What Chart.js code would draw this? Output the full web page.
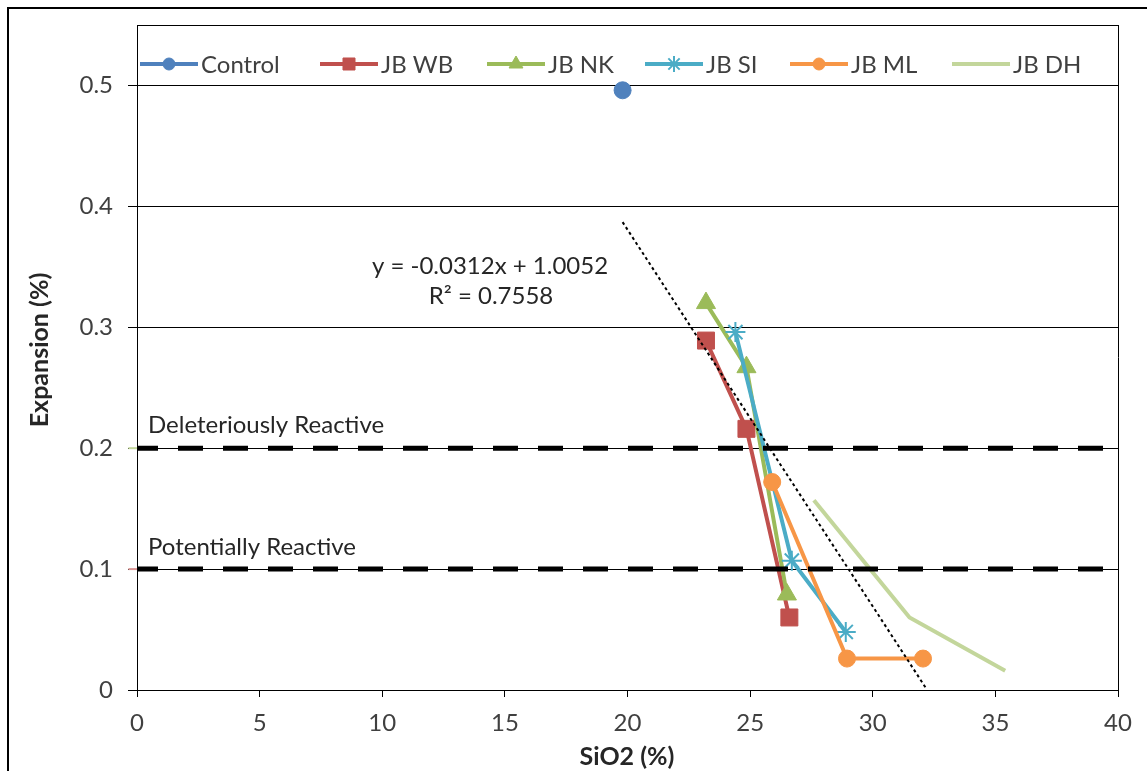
<!DOCTYPE html>
<html>
<head>
<meta charset="utf-8">
<title>Expansion vs SiO2</title>
<script src="https://cdn.jsdelivr.net/npm/chart.js@4.4.1/dist/chart.umd.min.js"></script>
<style>
  html, body { margin: 0; padding: 0; background: #fff; overflow: hidden; }
  #wrap { position: relative; width: 1147px; height: 771px; }
</style>
</head>
<body>
<div id="wrap"><canvas id="chart" width="1147" height="771"></canvas></div>
<script>
// Data (SiO2 % vs expansion %)
const controlX = [19.8];
const controlY = [0.496];
const wbX = [23.2, 24.85, 26.6];
const wbY = [0.289, 0.216, 0.060];
const nkX = [23.2, 24.85, 26.5];
const nkY = [0.320, 0.267, 0.079];
const siX = [24.4, 26.7, 28.9];
const siY = [0.296, 0.107, 0.048];
const mlX = [25.9, 28.95, 32.05];
const mlY = [0.172, 0.026, 0.026];
const dhX = [27.6, 31.5, 35.4];
const dhY = [0.157, 0.060, 0.016];

// linear trendline y = -0.0312x + 1.0052, ends
const trendX = [19.8, 32.2];
const trendY = [0.387, 0.0006];

// reactivity limits
const limitX = [0, 40];
const deleteriousY = [0.2, 0.2];
const potentialY = [0.1, 0.1];
// coloured stubs that stick out past the plot edges
const edgeX = [-0.35, 0, 20, 40, 40.3];
const deleteriousEdgeY = [0.2, 0.2, null, 0.2, 0.2];
const potentialEdgeY = [0.1, 0.1, null, 0.1, 0.1];

const seriesNames = ['Control', 'JB WB', 'JB NK', 'JB SI', 'JB ML', 'JB DH'];
const xMin = 0, xMax = 40, xStep = 5;
const yMin = 0, yMax = 0.55, yStep = 0.1, yLastLabel = 0.5;

const FONT = 'Lato, "Open Sans", sans-serif';
const TEXT = '#404040';

function pts(xs, ys) {
    return xs.map((x, i) => ({ x: x, y: ys[i] }));
}

function series(label, xs, ys, color, style, radius, order) {
    return {
        label: label,
        data: pts(xs, ys),
        showLine: true,
        borderColor: color,
        backgroundColor: color,
        borderWidth: 4,
        pointStyle: style,
        pointRadius: style ? radius : 0,
        pointHoverRadius: style ? radius : 0,
        pointBorderWidth: style === 'star' ? 2 : 1,
        pointBorderColor: color,
        pointBackgroundColor: color,
        order: order
    };
}

const styles = [
    { color: '#4f81bd', style: 'circle', r: 8.5, lr: 6 },
    { color: '#c0504d', style: 'rect', r: 12, lr: 8.5 },
    { color: '#9bbb59', style: 'triangle', r: 11, lr: 8 },
    { color: '#4bacc6', style: 'star', r: 10, lr: 8 },
    { color: '#f79646', style: 'circle', r: 8.5, lr: 6 },
    { color: '#c3d69b', style: false, r: 0, lr: 0 }
];

const datasets = [
    series(seriesNames[0], controlX, controlY, styles[0].color, styles[0].style, styles[0].r, 7),
    series(seriesNames[1], wbX, wbY, styles[1].color, styles[1].style, styles[1].r, 6),
    series(seriesNames[2], nkX, nkY, styles[2].color, styles[2].style, styles[2].r, 5),
    series(seriesNames[3], siX, siY, styles[3].color, styles[3].style, styles[3].r, 4),
    series(seriesNames[4], mlX, mlY, styles[4].color, styles[4].style, styles[4].r, 3),
    series(seriesNames[5], dhX, dhY, styles[5].color, styles[5].style, styles[5].r, 2),
    {
        label: 'trend',
        data: pts(trendX, trendY),
        showLine: true,
        borderColor: '#000',
        borderWidth: 2,
        borderDash: [3, 3],
        pointRadius: 0,
        order: 1
    },
    {
        label: 'deleterious',
        data: pts(limitX, deleteriousY),
        showLine: true,
        borderColor: '#000',
        borderWidth: 5,
        borderDash: [25, 20],
        borderDashOffset: 4,
        borderCapStyle: 'butt',
        pointRadius: 0,
        order: 0
    },
    {
        label: 'potential',
        data: pts(limitX, potentialY),
        showLine: true,
        borderColor: '#000',
        borderWidth: 5,
        borderDash: [25, 20],
        borderDashOffset: 4,
        borderCapStyle: 'butt',
        pointRadius: 0,
        order: 0
    },
    {
        label: 'edge1',
        data: pts(edgeX, deleteriousEdgeY),
        showLine: true,
        spanGaps: false,
        borderColor: '#c3d69b',
        borderWidth: 2,
        pointRadius: 0,
        clip: false,
        order: 8
    },
    {
        label: 'edge2',
        data: pts(edgeX, potentialEdgeY),
        showLine: true,
        spanGaps: false,
        borderColor: '#d99694',
        borderWidth: 2,
        pointRadius: 0,
        clip: false,
        order: 8
    }
];

// Legend, notes, axis titles, frames
const decorPlugin = {
    id: 'decor',
    beforeDraw(chart) {
        const ctx = chart.ctx;
        ctx.save();
        ctx.fillStyle = '#fff';
        ctx.fillRect(0, 0, chart.width, chart.height);
        ctx.restore();
    },
    beforeDatasetsDraw(chart) {
        const ctx = chart.ctx;
        const a = chart.chartArea;
        ctx.save();
        ctx.strokeStyle = '#000';
        ctx.lineWidth = 1;
        ctx.beginPath();
        ctx.moveTo(Math.round(a.right) + 0.5, a.top);
        ctx.lineTo(Math.round(a.right) + 0.5, a.bottom);
        ctx.stroke();
        ctx.restore();
    },
    afterDraw(chart) {
        const ctx = chart.ctx;
        const a = chart.chartArea;
        const ys = chart.scales.y;
        ctx.save();

        // legend inside the plot area
        const legendX = [140, 320, 487, 645, 790, 952];
        const legendY = 64;
        ctx.font = '24px ' + FONT;
        ctx.textBaseline = 'middle';
        ctx.textAlign = 'left';
        seriesNames.forEach((name, i) => {
            const s = styles[i];
            const x0 = legendX[i];
            ctx.strokeStyle = s.color;
            ctx.fillStyle = s.color;
            ctx.lineWidth = 4;
            ctx.beginPath();
            ctx.moveTo(x0, legendY);
            ctx.lineTo(x0 + 58, legendY);
            ctx.stroke();
            if (s.style) {
                ctx.lineWidth = s.style === 'star' ? 2 : 1;
                Chart.helpers.drawPoint(ctx, {
                    pointStyle: s.style, radius: s.lr, rotation: 0,
                    borderWidth: ctx.lineWidth
                }, x0 + 29, legendY);
            }
            ctx.fillStyle = TEXT;
            ctx.fillText(name, x0 + 61, legendY + 1);
        });

        // limit labels
        ctx.fillStyle = '#262626';
        ctx.fillText('Deleteriously Reactive', a.left + 11, ys.getPixelForValue(0.2) - 23);
        ctx.fillText('Potentially Reactive', a.left + 11, ys.getPixelForValue(0.1) - 22);

        // trendline equation
        ctx.textAlign = 'center';
        ctx.fillText('y = -0.0312x + 1.0052', 490, 266);
        ctx.fillText('R² = 0.7558', 491, 296);

        // axis titles
        ctx.font = 'bold 25px ' + FONT;
        ctx.fillText('SiO2 (%)', 627, 757);
        ctx.translate(40, 350);
        ctx.rotate(-Math.PI / 2);
        ctx.fillText('Expansion (%)', 0, 0);
        ctx.setTransform(1, 0, 0, 1, 0, 0);

        // outer chart frame
        ctx.strokeStyle = '#000';
        ctx.lineWidth = 2;
        ctx.strokeRect(8, 8, chart.width + 20, chart.height + 20);
        ctx.restore();
    }
};

new Chart(document.getElementById('chart'), {
    type: 'scatter',
    data: { datasets: datasets },
    options: {
        responsive: false,
        animation: false,
        events: [],
        layout: { padding: { left: 0, top: 25, right: 29, bottom: 0 } },
        plugins: {
            legend: { display: false },
            tooltip: { enabled: false }
        },
        scales: {
            x: {
                type: 'linear',
                min: xMin,
                max: xMax,
                afterFit: (scale) => {
                    scale.height = 81;
                    scale.paddingLeft = 0;
                    scale.paddingRight = 0;
                },
                ticks: {
                    stepSize: xStep,
                    color: TEXT,
                    padding: 12,
                    font: { family: FONT, size: 24 }
                },
                grid: {
                    drawOnChartArea: false,
                    drawTicks: true,
                    tickLength: 7,
                    tickColor: '#000',
                    tickWidth: 1
                },
                border: { display: true, color: '#000', width: 1 }
            },
            y: {
                type: 'linear',
                min: yMin,
                max: yMax,
                afterFit: (scale) => {
                    scale.width = 137;
                    scale.paddingTop = 0;
                    scale.paddingBottom = 0;
                },
                ticks: {
                    stepSize: yStep,
                    color: TEXT,
                    padding: 15,
                    font: { family: FONT, size: 24 },
                    callback: (v) => (v > yLastLabel + 1e-6 ? '' : String(Math.round(v * 10) / 10))
                },
                grid: {
                    color: '#000',
                    lineWidth: 1,
                    drawTicks: true,
                    tickLength: 9,
                    tickColor: (c) => (c.tick && c.tick.value > yLastLabel + 1e-6 ? 'rgba(0,0,0,0)' : '#000')
                },
                border: { display: true, color: '#000', width: 1 }
            }
        }
    },
    plugins: [decorPlugin]
});
</script>
</body>
</html>
